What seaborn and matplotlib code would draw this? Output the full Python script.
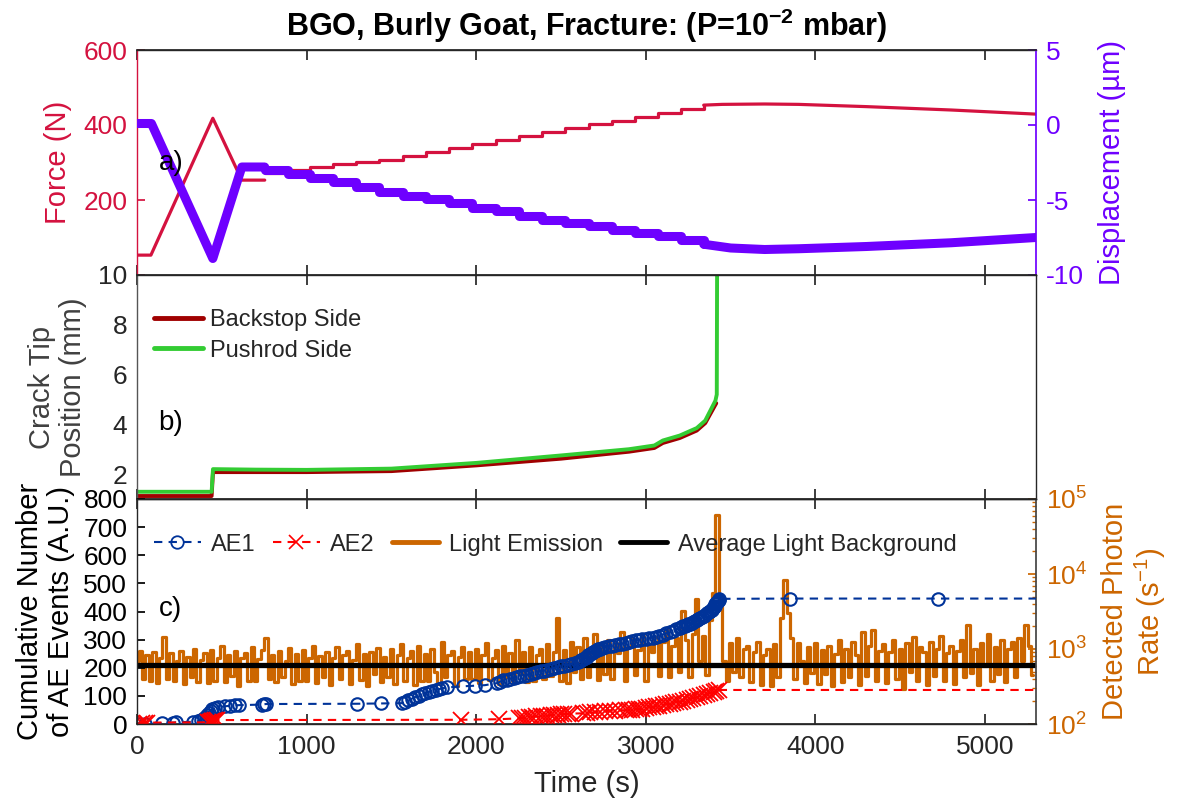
import numpy as np
import matplotlib
matplotlib.use("Agg")
import matplotlib.pyplot as plt
import seaborn as sns
from matplotlib.lines import Line2D
from matplotlib.ticker import LogLocator, NullFormatter

# ---------------- data ----------------
# panel a) force (N): ramp part, staircase part, tail part
force_ramp_t = [0, 82, 447, 618, 753]
force_ramp_v = [53, 53, 418, 253, 253]
stair_t = [753, 890, 1018, 1153, 1290, 1429, 1566, 1703, 1840, 1977,
           2114, 2251, 2388, 2525, 2662, 2799, 2936, 3073, 3210, 3341]
force_stair_v = [272, 280, 287, 295, 301, 307, 318, 328, 339, 349,
                 360, 370, 381, 391, 402, 412, 422, 432, 442, 453]
force_tail_t = [3341, 3450, 3700, 3900, 4300, 4800, 5300]
force_tail_v = [453, 455, 456, 455, 449, 440, 429]

# displacement (um)
disp_ramp_t = [0, 85, 447, 618, 753]
disp_ramp_v = [0.1, 0.1, -8.9, -2.8, -2.8]
disp_stair_v = [-3.0, -3.25, -3.5, -3.8, -4.1, -4.45, -4.7, -4.95, -5.2, -5.5,
                -5.75, -6.05, -6.3, -6.55, -6.75, -7.0, -7.2, -7.4, -7.65, -7.95]
disp_tail_t = [3341, 3500, 3700, 3900, 4300, 4800, 5300]
disp_tail_v = [-7.95, -8.2, -8.3, -8.25, -8.1, -7.85, -7.5]

# panel b) crack tip position (mm)
back_t = [0, 440, 448, 700, 1000, 1500, 2000, 2500, 2900, 3050, 3100, 3200, 3300, 3350, 3415]
back_v = [1.12, 1.12, 2.08, 2.08, 2.08, 2.12, 2.35, 2.62, 2.9, 3.05, 3.25, 3.45, 3.75, 4.05, 4.85]
push_t = [0, 440, 448, 700, 1000, 1500, 2000, 2500, 2900, 3050, 3100, 3200, 3300, 3350, 3410, 3418, 3420]
push_v = [1.29, 1.29, 2.2, 2.18, 2.17, 2.22, 2.45, 2.75, 3.0, 3.15, 3.35, 3.55, 3.85, 4.15, 4.95, 5.2, 10.5]

# panel c) cumulative AE events
ae1_t = [10, 50, 150, 215, 230, 330, 360, 380, 395, 405, 415, 425, 435, 445, 460, 480, 520, 550, 580, 600,
         735, 750, 760, 1295, 1440, 1560, 1580, 1600, 1620, 1640, 1660, 1680, 1700, 1720, 1740, 1760, 1780,
         1800, 1830, 1920, 1990, 2050, 2120, 2140, 2160, 2180, 2200, 2220, 2240, 2260, 2280, 2300, 2320,
         2340, 2360, 2380, 2400, 2420, 2440, 2460, 2480, 2500, 2520, 2540, 2560, 2580, 2600, 2610, 2620,
         2630, 2640, 2650, 2660, 2670, 2680, 2690, 2700, 2710, 2720, 2730, 2740, 2760, 2780, 2800, 2820,
         2840, 2860, 2880, 2900, 2920, 2940, 2960, 2980, 3000, 3020, 3040, 3060, 3080, 3100, 3120, 3140,
         3160, 3180, 3200, 3210, 3220, 3230, 3240, 3250, 3260, 3270, 3280, 3290, 3300, 3310, 3320, 3330,
         3340, 3350, 3360, 3370, 3380, 3390, 3395, 3400, 3405, 3410, 3415, 3420, 3425, 3430, 3432, 3850, 4720]
ae1_c = [0, 1, 3, 5, 6, 8, 10, 14, 20, 26, 33, 40, 47, 53, 58, 61, 63, 65, 66, 67,
         69, 70, 71, 72, 73, 74, 78, 84, 90, 96, 101, 106, 110, 114, 118, 121, 124,
         127, 130, 134, 136, 138, 145, 150, 155, 158, 161, 164, 167, 170, 172, 175, 178,
         181, 184, 187, 190, 193, 196, 199, 202, 205, 208, 210, 213, 216, 220, 224, 228,
         232, 236, 240, 244, 248, 252, 256, 260, 263, 266, 268, 270, 273, 276, 278, 281,
         284, 286, 289, 292, 294, 297, 299, 301, 303, 305, 307, 310, 314, 318, 322, 327,
         332, 337, 342, 344, 347, 350, 352, 355, 357, 360, 363, 366, 370, 374, 378, 381,
         385, 389, 393, 397, 402, 407, 412, 416, 420, 425, 430, 434, 438, 442, 445, 446, 446]
ae2_t = [10, 30, 50, 60, 420, 428, 435, 440, 445, 450, 455, 460, 470, 1910, 2135, 2250, 2270, 2290,
         2310, 2330, 2350, 2380, 2400, 2420, 2440, 2460, 2480, 2500, 2520, 2540, 2560, 2630, 2650, 2670,
         2700, 2730, 2760, 2790, 2820, 2850, 2880, 2900, 2920, 2940, 2960, 2980, 3000, 3020, 3040, 3060,
         3080, 3100, 3120, 3140, 3160, 3180, 3200, 3220, 3240, 3260, 3280, 3300, 3320, 3340, 3360, 3380,
         3400, 3415, 3430]
ae2_c = [0, 2, 4, 5, 6, 7, 8, 9, 10, 11, 12, 13, 14, 15, 17, 20, 22, 23,
         25, 26, 27, 28, 29, 30, 31, 32, 33, 34, 35, 36, 37, 38, 40, 41,
         42, 44, 46, 47, 48, 49, 49, 50, 51, 52, 53, 55, 57, 59, 61, 63,
         65, 67, 70, 72, 75, 77, 80, 83, 86, 89, 92, 95, 99, 102, 106, 110,
         114, 118, 121]
ae_end_time = 5300

# light emission (photons / s), 20 s bins starting at 0 s
light_t0 = 0
light_dt = 20
light_rate = [
    700, 950, 400, 820, 380, 900, 350, 760, 1450, 400, 880, 380, 690, 940, 340, 780, 420, 1000, 360, 720,
    880, 350, 960, 380, 760, 1100, 360, 820, 440, 950, 320, 770, 890, 370, 1050, 380, 730, 980, 1420, 400,
    820, 360, 940, 420, 700, 1020, 340, 860, 380, 980, 380, 750, 1100, 350, 800, 420, 920, 330, 760, 1050,
    400, 830, 950, 340, 710, 1180, 390, 860, 320, 900, 460, 1020, 360, 780, 420, 990, 340, 840, 1150, 380,
    760, 930, 330, 1080, 380, 870, 370, 990, 500, 340, 1230, 420, 820, 950, 320, 780, 1060, 400, 900, 400,
    1000, 350, 820, 1200, 390, 760, 960, 340, 1080, 420, 880, 380, 1300, 460, 910, 360, 1050, 380, 840, 990,
    400, 1150, 440, 900, 2600, 380, 980, 350, 1250, 500, 1050, 400, 1400, 420, 920, 1600, 390, 1100, 460, 1300,
    400, 1200, 880, 1700, 380, 1050, 1350, 450, 980, 1500, 380, 1150, 900, 1450, 440, 1250, 1800, 420, 1100, 1400,
    500, 3200, 1300, 420, 1600, 4600, 700, 1500, 450, 2400, 5500, 62000, 3800, 700, 380, 1200, 500, 1400, 420, 1000,
    1100, 360, 900, 1250, 330, 820, 1000, 320, 1150, 420, 2600, 8300, 3000, 1400, 400, 1200, 700, 350, 1050, 480,
    1200, 340, 980, 460, 1100, 320, 860, 1300, 360, 1000, 420, 1250, 820, 330, 1700, 440, 1100, 1800, 380, 950,
    1150, 350, 900, 1300, 400, 1000, 290, 1200, 500, 1450, 370, 1050, 900, 330, 1250, 440, 1000, 1500, 380, 880,
    1100, 340, 950, 1300, 420, 2100, 480, 1000, 330, 1200, 600, 1600, 380, 1050, 460, 1300, 360, 1000, 1250, 420,
    1400, 700, 2100, 1100, 450]
light_background = 610

# ---------------- style ----------------
sns.set_theme(style="white")
plt.rcParams["font.family"] = ["Liberation Sans", "DejaVu Sans"]
plt.rcParams["mathtext.fontset"] = "custom"
plt.rcParams["mathtext.rm"] = "Liberation Sans"
plt.rcParams["mathtext.it"] = "Liberation Sans:italic"
plt.rcParams["mathtext.bf"] = "Liberation Sans:bold"
plt.rcParams["axes.unicode_minus"] = False

C_FORCE = "#d4123f"
C_DISP = "#6e00ff"
C_BACK = "#a00000"
C_PUSH = "#33cc33"
C_AE1 = "#003399"
C_AE2 = "#ff0000"
C_LIGHT = "#cc6600"
C_AX = "#262626"

TICK_FS = 19
LAB_FS = 21
LEG_FS = 17

fig = plt.figure(figsize=(11.84, 8.08), dpi=100)
L, W = 137 / 1184, (1036 - 137) / 1184
ax1 = fig.add_axes([L, 1 - 275 / 808, W, 225 / 808])
ax1r = ax1.twinx()
ax2 = fig.add_axes([L, 1 - 499 / 808, W, 224 / 808])
ax3 = fig.add_axes([L, 1 - 724 / 808, W, 225 / 808])
ax3r = ax3.twinx()

xlim = (0, 5300)
xticks = [0, 1000, 2000, 3000, 4000, 5000]

# ---- panel a ----
sns.lineplot(x=force_ramp_t, y=force_ramp_v, ax=ax1, color=C_FORCE, lw=2.3, estimator=None, sort=False)
sns.lineplot(x=stair_t, y=force_stair_v, ax=ax1, color=C_FORCE, lw=2.3, estimator=None, sort=False,
             drawstyle="steps-post")
sns.lineplot(x=force_tail_t, y=force_tail_v, ax=ax1, color=C_FORCE, lw=2.3, estimator=None, sort=False)
sns.lineplot(x=disp_ramp_t, y=disp_ramp_v, ax=ax1r, color=C_DISP, lw=6.5, estimator=None, sort=False)
sns.lineplot(x=stair_t, y=disp_stair_v, ax=ax1r, color=C_DISP, lw=6.5, estimator=None, sort=False,
             drawstyle="steps-post")
sns.lineplot(x=disp_tail_t, y=disp_tail_v, ax=ax1r, color=C_DISP, lw=6.5, estimator=None, sort=False)

ax1.set_xlim(*xlim)
ax1.set_ylim(0, 600)
ax1.set_yticks([0, 200, 400, 600])
ax1.set_yticklabels(["", "200", "400", "600"])
ax1.set_ylabel("Force (N)", color=C_FORCE, fontsize=LAB_FS, labelpad=8)
ax1r.set_ylim(-10, 5)
ax1r.set_yticks([-10, -5, 0, 5])
ax1r.set_ylabel("Displacement (µm)", color=C_DISP, fontsize=LAB_FS, labelpad=10)
ax1.tick_params(axis="y", colors=C_FORCE, labelsize=TICK_FS, direction="in", length=6, pad=7)
ax1r.tick_params(axis="y", colors=C_DISP, labelsize=TICK_FS, direction="in", length=6, pad=7)
ax1.spines["left"].set_color(C_FORCE)
ax1.spines["right"].set_visible(False)
ax1r.spines["left"].set_visible(False)
ax1r.spines["right"].set_color(C_DISP)
ax1.set_title(r"BGO, Burly Goat, Fracture: (P=10$^{\mathbf{-2}}$ mbar)", fontsize=22,
              fontweight="bold", pad=10, color="black")
ax1r.text(0.024, 0.50, "a)", transform=ax1r.transAxes, fontsize=20, ha="left", va="center",
          color="black", zorder=10)

# ---- panel b ----
sns.lineplot(x=back_t, y=back_v, ax=ax2, color=C_BACK, lw=2.8, estimator=None, sort=False)
sns.lineplot(x=push_t, y=push_v, ax=ax2, color=C_PUSH, lw=2.8, estimator=None, sort=False)
ax2.set_xlim(*xlim)
ax2.set_ylim(1, 10)
ax2.set_yticks([2, 4, 6, 8, 10])
ax2.set_ylabel("Crack Tip\nPosition (mm)", color="#404040", fontsize=LAB_FS, labelpad=8, linespacing=1.15)
ax2.tick_params(axis="y", colors=C_AX, labelsize=TICK_FS, direction="in", length=6, pad=7)
ax2.spines["left"].set_color("#555555")
ax2.legend(handles=[Line2D([], [], color=C_BACK, lw=3.5, label="Backstop Side"),
                    Line2D([], [], color=C_PUSH, lw=3.5, label="Pushrod Side")],
           loc="upper left", bbox_to_anchor=(0.0, 0.92), frameon=False, fontsize=LEG_FS,
           handlelength=2.1, handletextpad=0.3, labelspacing=0.35, borderaxespad=0.3)
ax2.text(0.024, 0.34, "b)", transform=ax2.transAxes, fontsize=20, ha="left", va="center", color="black")

# ---- panel c ----
sns.lineplot(x=[light_t0 + light_dt * i for i in range(len(light_rate))], y=light_rate, ax=ax3r,
             color=C_LIGHT, lw=2.3, estimator=None, sort=False, drawstyle="steps-mid")
ax3r.axhline(light_background, color="black", lw=3.8)
ax3r.set_yscale("log")
ax3r.set_ylim(1e2, 1e5)
ax3r.yaxis.set_major_locator(LogLocator(base=10, numticks=10))
ax3r.yaxis.set_minor_locator(LogLocator(base=10, subs=np.arange(2, 10), numticks=20))
ax3r.yaxis.set_minor_formatter(NullFormatter())
ax3r.set_ylabel("Detected Photon\nRate (s$^{-1}$)", color=C_LIGHT, fontsize=LAB_FS, labelpad=10,
                linespacing=1.15)
ax3r.tick_params(axis="y", which="both", colors=C_LIGHT, labelsize=TICK_FS, direction="in", pad=7)
ax3r.tick_params(axis="y", which="major", length=6)
ax3r.tick_params(axis="y", which="minor", length=3)

ax3.set_zorder(ax3r.get_zorder() + 1)
ax3.patch.set_visible(False)
n1 = len(ae1_t)
ax3.plot(ae1_t + [ae_end_time], ae1_c + [ae1_c[-1]], ls="--", color=C_AE1, lw=1.5, marker="o",
         mfc="none", mec=C_AE1, ms=9, mew=1.5, markevery=list(range(n1)), dashes=(4, 3))
n2 = len(ae2_t)
ax3.plot(ae2_t + [ae_end_time], ae2_c + [ae2_c[-1]], ls="--", color=C_AE2, lw=1.5, marker="x",
         mec=C_AE2, ms=11, mew=1.3, markevery=list(range(n2)), dashes=(4, 3))
ax3.set_xlim(*xlim)
ax3.set_ylim(0, 800)
ax3.set_yticks(range(0, 801, 100))
ax3.set_ylabel("Cumulative Number\nof AE Events (A.U.)", color="black", fontsize=LAB_FS, labelpad=6,
               linespacing=1.15)
ax3.tick_params(axis="y", colors="black", labelsize=TICK_FS, direction="in", length=6, pad=7)
ax3.set_xlabel("Time (s)", fontsize=LAB_FS, color=C_AX, labelpad=8)
ax3.spines["right"].set_visible(False)
ax3r.spines["left"].set_visible(False)
ax3r.spines["right"].set_color("#444444")
ax3.legend(handles=[
    Line2D([], [], ls="--", color=C_AE1, marker="o", mfc="none", ms=9, mew=1.3, lw=1.5, dashes=(4, 3), label="AE1"),
    Line2D([], [], ls="--", color=C_AE2, marker="x", ms=10, mew=1.2, lw=1.5, dashes=(4, 3), label="AE2"),
    Line2D([], [], color=C_LIGHT, lw=3.5, label="Light Emission"),
    Line2D([], [], color="black", lw=3.5, label="Average Light Background")],
    loc="upper left", bbox_to_anchor=(0.0, 0.92), frameon=False, fontsize=LEG_FS, ncol=4,
    handlelength=2.0, handletextpad=0.45, columnspacing=0.7, borderaxespad=0.3)
ax3.text(0.024, 0.51, "c)", transform=ax3.transAxes, fontsize=20, ha="left", va="center", color="black")

# x ticks for all panels
for ax in (ax1, ax2, ax3):
    ax.set_xticks(xticks)
    ax.tick_params(axis="x", top=True, bottom=True, direction="in", length=7, colors=C_AX,
                   labelsize=TICK_FS)
    ax.spines["top"].set_color(C_AX)
    ax.spines["bottom"].set_color(C_AX)
    for s in ax.spines.values():
        s.set_linewidth(1.0)
    ax.grid(False)
for ax in (ax1, ax2):
    ax.tick_params(axis="x", labelbottom=False)
    ax.set_xlabel("")
ax3.tick_params(axis="x", labelcolor=C_AX, pad=8)
for ax in (ax1r, ax3r):
    ax.grid(False)
ax2.spines["right"].set_color(C_AX)
ax3.spines["left"].set_color(C_AX)

fig.savefig("out.png", dpi=100)
